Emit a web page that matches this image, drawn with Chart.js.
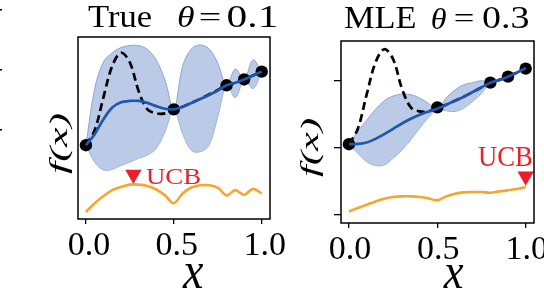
<!DOCTYPE html>
<html>
<head>
<meta charset="utf-8">
<script src="https://cdn.jsdelivr.net/npm/chart.js@4.4.0/dist/chart.umd.min.js"></script>
<style>
  html, body { margin: 0; padding: 0; background: #fff; overflow: hidden; }
  body { width: 544px; height: 290px; position: relative; }
  canvas { position: absolute; top: 0; }
  #left { left: 0; }
  #right { left: 280px; }
</style>
</head>
<body>
<canvas id="left" width="300" height="290"></canvas>
<canvas id="right" width="280" height="290"></canvas>
<script>
const xGrid = [0, 0.05, 0.1, 0.15, 0.2, 0.25, 0.3, 0.35, 0.4, 0.45, 0.5,
               0.55, 0.6, 0.65, 0.7, 0.75, 0.8, 0.85, 0.9, 0.95, 1];
const xTicks = [0, 0.5, 1];
const yTicksRight = [-1, 0, 1];

// true function (dashed) and the observations
const trueF = [0.05, 0.28, 0.79, 1.27, 1.47, 1.32, 0.88, 0.60, 0.54, 0.54, 0.60,
               0.64, 0.70, 0.76, 0.83, 0.90, 0.97, 1.01, 1.06, 1.12, 1.18];
const obsX = [0, 0.5, 0.8, 0.9, 1.0];
const obsY = [0.05, 0.60, 0.97, 1.06, 1.18];

// left panel: true theta = 0.1
const meanTrue  = [0.05, 0.22, 0.45, 0.63, 0.71, 0.73, 0.73, 0.70, 0.65, 0.61, 0.60,
                   0.64, 0.70, 0.76, 0.82, 0.89, 0.97, 1.01, 1.06, 1.12, 1.18];
const upperTrue = [0.05, 0.92, 1.33, 1.47, 1.55, 1.58, 1.58, 1.52, 1.36, 1.05, 0.60,
                   1.26, 1.53, 1.59, 1.53, 1.31, 0.97, 1.22, 1.06, 1.36, 1.18];
const lowerTrue = [0.05, -0.21, -0.33, -0.32, -0.26, -0.21, -0.15, -0.10, 0.00, 0.26, 0.60,
                   0.23, -0.03, -0.05, 0.05, 0.49, 0.97, 0.78, 1.06, 0.92, 1.18];
const ucbTrue   = [-0.975, -0.84, -0.73, -0.64, -0.59, -0.555, -0.555, -0.575, -0.63, -0.72, -0.84,
                   -0.69, -0.60, -0.565, -0.565, -0.60, -0.72, -0.64, -0.71, -0.62, -0.69];
const pickTrue = { x: 0.27, y: -0.40 };

// right panel: MLE theta = 0.3
const meanMle  = [0.05, 0.055, 0.075, 0.13, 0.20, 0.28, 0.36, 0.43, 0.49, 0.54, 0.58,
                  0.64, 0.70, 0.76, 0.83, 0.90, 0.97, 1.01, 1.06, 1.12, 1.19];
const upperMle = [0.05, 0.24, 0.41, 0.57, 0.70, 0.77, 0.80, 0.79, 0.74, 0.66, 0.58,
                  0.74, 0.86, 0.94, 0.97, 1.00, 0.97, 1.03, 1.06, 1.14, 1.19];
const lowerMle = [0.05, -0.085, -0.21, -0.27, -0.26, -0.16, -0.035, 0.115, 0.29, 0.45, 0.58,
                  0.55, 0.54, 0.59, 0.69, 0.81, 0.97, 0.99, 1.06, 1.10, 1.19];
const ucbMle   = [-0.955, -0.905, -0.855, -0.805, -0.765, -0.74, -0.73, -0.73, -0.74, -0.76, -0.79,
                  -0.73, -0.69, -0.67, -0.665, -0.665, -0.675, -0.655, -0.64, -0.62, -0.59];
const pickMle = { x: 1.0, y: -0.43 };

const bandFill = 'rgba(172, 192, 226, 0.82)';
const bandEdge = 'rgba(128, 160, 212, 0.9)';
const blue = '#1f56ae';
const orange = '#f7a52e';
const red = '#e8202a';
const serif = "'Liberation Serif', 'Times New Roman', serif";

function pts(xs, ys) {
    return xs.map((x, i) => ({ x: x, y: ys[i] }));
}

// draw text so that its ink fills the given box (page coords)
function fitText(ctx, t, dx) {
    ctx.save();
    ctx.font = t.font;
    ctx.fillStyle = t.color || '#000';
    ctx.textAlign = 'left';
    ctx.textBaseline = 'alphabetic';
    const m = ctx.measureText(t.s);
    const inkW = m.actualBoundingBoxLeft + m.actualBoundingBoxRight;
    const inkH = m.actualBoundingBoxAscent + m.actualBoundingBoxDescent;
    const b = t.box;
    if (t.rot) {
        ctx.translate(b.l - dx, b.b);
        ctx.rotate(-Math.PI / 2);
        ctx.scale((b.b - b.t) / inkW, (b.r - b.l) / inkH);
    } else {
        ctx.translate(b.l - dx, b.t);
        ctx.scale((b.r - b.l) / inkW, (b.b - b.t) / inkH);
    }
    ctx.fillText(t.s, m.actualBoundingBoxLeft, m.actualBoundingBoxAscent);
    ctx.restore();
}

const decor = {
    id: 'decor',
    afterDraw(chart, args, o) {
        const ctx = chart.ctx;
        const a = chart.chartArea;
        ctx.save();
        ctx.strokeStyle = '#000';
        ctx.lineWidth = 1.5;
        ctx.strokeRect(a.left, a.top, a.right - a.left, a.bottom - a.top);
        (o.marks || []).forEach(y => {
            ctx.beginPath();
            ctx.moveTo(0, y);
            ctx.lineTo(2, y);
            ctx.stroke();
        });
        ctx.restore();
        o.texts.forEach(t => fitText(ctx, t, o.dx));
    }
};

function makeChart(id, cfg) {
    const ctx = document.getElementById(id).getContext('2d');
    return new Chart(ctx, {
        type: 'line',
        data: {
            datasets: [
                { data: pts(xGrid, cfg.upper), borderColor: bandEdge, borderWidth: 1,
                  backgroundColor: bandFill, fill: '+1', pointRadius: 0, order: 9 },
                { data: pts(xGrid, cfg.lower), borderColor: bandEdge, borderWidth: 1,
                  fill: false, pointRadius: 0, order: 9 },
                { data: pts(xGrid, cfg.ucb), borderColor: orange, borderWidth: 2.6,
                  fill: false, pointRadius: 0, order: 7 },
                { data: pts(xGrid, trueF), borderColor: '#000', borderWidth: 2.7,
                  borderDash: [8, 4.5], fill: false, pointRadius: 0, order: 6 },
                { data: pts(obsX, obsY), showLine: false, pointRadius: 6.2,
                  pointBackgroundColor: '#000', pointBorderWidth: 0, order: 5 },
                { data: pts(xGrid, cfg.mean), borderColor: blue, borderWidth: 2.7,
                  fill: false, pointRadius: 0, order: 4 },
                { data: [cfg.pick], showLine: false, pointStyle: 'triangle', pointRotation: 180,
                  pointRadius: 9.5, pointBackgroundColor: red, pointBorderWidth: 0, order: 1 }
            ]
        },
        options: {
            responsive: false,
            animation: false,
            devicePixelRatio: 1,
            layout: { padding: cfg.padding },
            elements: { line: { tension: 0.35, capBezierPoints: true } },
            plugins: {
                legend: { display: false },
                tooltip: { enabled: false },
                decor: { texts: cfg.texts, dx: cfg.dx, marks: cfg.marks }
            },
            scales: {
                x: {
                    type: 'linear', min: -0.045, max: 1.047,
                    afterBuildTicks: s => { s.ticks = xTicks.map(v => ({ value: v })); },
                    afterFit: s => { s.height = cfg.xAxisH; },
                    grid: { display: true, drawOnChartArea: false, drawTicks: true,
                            tickLength: 5, color: '#000', lineWidth: 1.3 },
                    border: { display: false },
                    ticks: { padding: 2, color: '#000', maxRotation: 0, autoSkip: false,
                             labelOffset: cfg.labelOffset,
                             font: { family: serif, size: 34 },
                             callback: v => v.toFixed(1) }
                },
                y: {
                    type: 'linear', min: cfg.yMin, max: cfg.yMax,
                    afterBuildTicks: s => { s.ticks = cfg.yTicks.map(v => ({ value: v })); },
                    afterFit: s => { s.width = cfg.yAxisW; },
                    grid: { display: cfg.yTicks.length > 0, drawOnChartArea: false, drawTicks: true,
                            tickLength: 7, color: '#000', lineWidth: 1.3 },
                    border: { display: false },
                    ticks: { callback: () => '' }
                }
            }
        },
        plugins: [decor]
    });
}

makeChart('left', {
    upper: upperTrue, lower: lowerTrue, mean: meanTrue, ucb: ucbTrue, pick: pickTrue,
    yMin: -1.083, yMax: 1.712, yTicks: [], yAxisW: 78, xAxisH: 71, labelOffset: 3,
    padding: { left: 0, top: 37, right: 30, bottom: 0 },
    dx: 0, marks: [9.7, 69.7, 129.7],
    texts: [
        { s: 'True', font: '30px ' + serif, box: { l: 88, r: 151.7, t: 6.7, b: 26.7 } },
        { s: 'θ', font: 'italic 30px ' + serif, box: { l: 178.3, r: 195, t: 6.5, b: 27 } },
        { s: '=', font: '30px ' + serif, box: { l: 200, r: 220, t: 13.5, b: 20.5 } },
        { s: '0.1', font: '30px ' + serif, box: { l: 228, r: 277, t: 6.7, b: 26.7 } },
        { s: 'x', font: 'italic 44px ' + serif, box: { l: 182, r: 204, t: 264, b: 288 } },
        { s: 'f(x)', font: 'italic 36px ' + serif, rot: true, box: { l: 49, r: 72, t: 114, b: 174 } },
        { s: 'UCB', font: '24px ' + serif, color: red, box: { l: 146, r: 200, t: 169.5, b: 184 } }
    ]
});

makeChart('right', {
    upper: upperMle, lower: lowerMle, mean: meanMle, ucb: ucbMle, pick: pickMle,
    yMin: -1.128, yMax: 1.593, yTicks: yTicksRight, yAxisW: 61, xAxisH: 67, labelOffset: 1,
    padding: { left: 0, top: 41, right: 26, bottom: 0 },
    dx: 280,
    texts: [
        { s: 'MLE', font: '30px ' + serif, box: { l: 344, r: 415, t: 8.3, b: 28.3 } },
        { s: 'θ', font: 'italic 30px ' + serif, box: { l: 431.7, r: 446.7, t: 8, b: 28.5 } },
        { s: '=', font: '30px ' + serif, box: { l: 455, r: 473.3, t: 15, b: 22 } },
        { s: '0.3', font: '30px ' + serif, box: { l: 483.3, r: 528.3, t: 8, b: 28.3 } },
        { s: 'x', font: 'italic 44px ' + serif, box: { l: 442.7, r: 464, t: 264, b: 287.5 } },
        { s: 'f(x)', font: 'italic 36px ' + serif, rot: true, box: { l: 300, r: 323, t: 119, b: 177 } },
        { s: 'UCB', font: '24px ' + serif, color: red, box: { l: 478, r: 531.7, t: 147, b: 165.5 } }
    ]
});
</script>
</body>
</html>
